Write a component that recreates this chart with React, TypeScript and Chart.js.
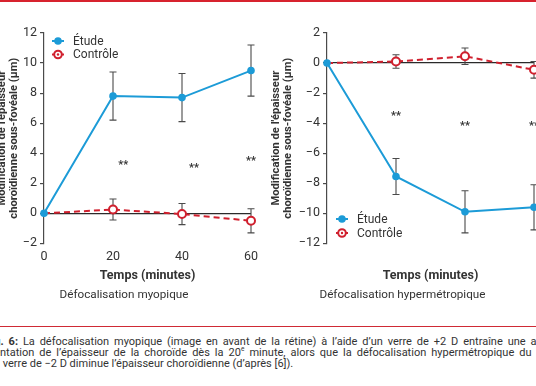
import React, { useEffect, useRef } from 'react';
import { Chart, registerables } from 'chart.js';

Chart.register(...registerables);

// ---------- data ----------
const minutes = [0, 20, 40, 60];
const seriesLabels = ['Étude', 'Contrôle'];
const xTicksMinutes = [0, 20, 40, 60];

// Défocalisation myopique (left panel)
const myoEtude = [0, 7.8, 7.7, 9.5];
const myoEtudeErr = [0, 1.6, 1.6, 1.7];
const myoControle = [0, 0.25, -0.05, -0.5];
const myoControleErr = [0, 0.7, 0.7, 0.8];
const myoStarX = [23, 43.5, 60];
const myoStarY = [3.3, 3.1, 3.6];

// Défocalisation hypermétropique (right panel)
const hypEtude = [0, -7.55, -9.9, -9.6];
const hypEtudeErr = [0, 1.2, 1.4, 1.5];
const hypControle = [0, 0.1, 0.45, -0.45];
const hypControleErr = [0, 0.45, 0.55, 0.55];
const hypStarX = [20, 40, 60];
const hypStarY = [-3.4, -4.1, -4.1];

const yTitle = ["Modification de l'épaisseur", 'choroïdienne sous-fovéale (µm)'];
const xTitle = 'Temps (minutes)';

// ---------- styles ----------
const FONT = 'Roboto, "Noto Sans", sans-serif';
const TICK_FONT = '"Liberation Sans Narrow", Roboto, sans-serif';
const BLUE = '#1c9bd7';
const RED = '#d0202e';
const INK = '#333333';
const AXIS = '#4a4a4a';

const fmt = (v: number) => (v < 0 ? '\u2212' + Math.abs(v) : String(v));
const toXY = (ys: number[]) => ys.map((y, i) => ({ x: minutes[i], y }));

const errorBars = {
  id: 'errorBars',
  beforeDatasetsDraw(chart: any) {
    const { ctx, scales } = chart;
    const x = scales.x, y = scales.y;
    ctx.save();
    ctx.strokeStyle = AXIS;
    ctx.lineWidth = 1.1;
    chart.data.datasets.forEach((ds: any) => {
      const errs: number[] = ds.errors;
      if (!errs) return;
      ds.data.forEach((p: any, i: number) => {
        const e = errs[i];
        if (!e) return;
        const px = x.getPixelForValue(p.x);
        const top = y.getPixelForValue(p.y + e);
        const bot = y.getPixelForValue(p.y - e);
        ctx.beginPath();
        ctx.moveTo(px, top); ctx.lineTo(px, bot);
        ctx.moveTo(px - 3.5, top); ctx.lineTo(px + 3.5, top);
        ctx.moveTo(px - 3.5, bot); ctx.lineTo(px + 3.5, bot);
        ctx.stroke();
      });
    });
    ctx.restore();
  },
};

const stars = {
  id: 'stars',
  afterDatasetsDraw(chart: any, _args: any, opts: any) {
    if (!opts || !opts.xs) return;
    const { ctx, scales } = chart;
    ctx.save();
    ctx.fillStyle = INK;
    ctx.font = `bold 11px ${FONT}`;
    ctx.textAlign = 'center';
    ctx.textBaseline = 'middle';
    opts.xs.forEach((xv: number, i: number) => {
      ctx.fillText('**', scales.x.getPixelForValue(xv), scales.y.getPixelForValue(opts.ys[i]) + 2);
    });
    ctx.restore();
  },
};

const insideLegend = {
  id: 'insideLegend',
  afterDraw(chart: any, _args: any, opts: any) {
    if (!opts) return;
    const { ctx, chartArea } = chart;
    ctx.save();
    chart.data.datasets.forEach((ds: any, i: number) => {
      const cx = chartArea.left + opts.dx;
      const cy = chartArea.top + opts.dy + i * opts.gap;
      ctx.strokeStyle = ds.borderColor;
      ctx.lineWidth = 2;
      ctx.setLineDash([]);
      ctx.beginPath();
      ctx.moveTo(cx - 6, cy);
      ctx.lineTo(cx + 6, cy);
      ctx.stroke();
      ctx.beginPath();
      ctx.arc(cx, cy, 3.8, 0, Math.PI * 2);
      ctx.fillStyle = ds.pointBackgroundColor;
      ctx.fill();
      if (ds.pointBorderWidth) {
        ctx.lineWidth = ds.pointBorderWidth;
        ctx.strokeStyle = ds.pointBorderColor;
        ctx.stroke();
        ctx.beginPath();
        ctx.arc(cx, cy, 1.2, 0, Math.PI * 2);
        ctx.fillStyle = ds.pointBorderColor;
        ctx.fill();
      }
      ctx.fillStyle = INK;
      ctx.font = `12px ${FONT}`;
      ctx.textAlign = 'left';
      ctx.textBaseline = 'middle';
      ctx.fillText(ds.label, cx + 15, cy + 0.5);
    });
    ctx.restore();
  },
};

type Spec = {
  etude: number[]; etudeErr: number[]; controle: number[]; controleErr: number[];
  starX: number[]; starY: number[];
  yMin: number; yMax: number; yW: number; padR: number; showX: boolean;
  subtitle: string; legend: { dx: number; dy: number; gap: number };
};

function makeConfig(p: Spec): any {
  return {
    type: 'line',
    data: {
      datasets: [
        {
          label: seriesLabels[0], data: toXY(p.etude), errors: p.etudeErr,
          borderColor: BLUE, backgroundColor: BLUE, borderWidth: 2,
          pointRadius: 3.8, pointBackgroundColor: BLUE, pointBorderColor: BLUE, pointBorderWidth: 0,
          clip: false, order: 0,
        },
        {
          label: seriesLabels[1], data: toXY(p.controle), errors: p.controleErr,
          borderColor: RED, backgroundColor: '#ffffff', borderWidth: 2, borderDash: [6, 4],
          pointRadius: [0, 4, 4, 4], pointBackgroundColor: '#ffffff', pointBorderColor: RED, pointBorderWidth: 2,
          clip: false, order: 1,
        },
      ],
    },
    options: {
      animation: false,
      responsive: false,
      devicePixelRatio: 1,
      events: [],
      layout: { padding: { left: 0, right: p.padR, top: 33, bottom: 8 } },
      scales: {
        x: {
          type: 'linear', min: 0, max: 60,
          afterBuildTicks: (s: any) => { s.ticks = xTicksMinutes.map((v) => ({ value: v })); },
          ticks: { display: p.showX, padding: 6, color: INK, font: { family: TICK_FONT, size: 12.5 } },
          grid: { display: false, drawTicks: false },
          border: { display: false },
          title: { display: true, text: xTitle, color: INK, font: { family: FONT, size: 12.5, weight: 'bold' }, padding: { top: 0, bottom: 4.5 } },
          afterFit: (s: any) => { s.height = 44.6; },
        },
        y: {
          min: p.yMin, max: p.yMax,
          ticks: { stepSize: 2, callback: (v: any) => fmt(Number(v)), padding: 3, color: INK, font: { family: TICK_FONT, size: 12.5 } },
          grid: {
            color: (c: any) => (c.tick && c.tick.value === 0 ? '#2a2a2a' : 'rgba(0,0,0,0)'),
            lineWidth: 1.2, tickColor: AXIS, tickLength: 4, drawTicks: true,
          },
          border: { display: true, color: AXIS, width: 1.2 },
          title: { display: true, text: yTitle, color: INK, font: { family: FONT, size: 11.2, weight: 'bold', lineHeight: 1 }, padding: 0 },
          afterFit: (s: any) => { s.width = p.yW; },
        },
      },
      plugins: {
        legend: { display: false },
        tooltip: { enabled: false },
        title: { display: true, position: 'bottom', text: p.subtitle, color: INK, font: { family: FONT, size: 11.7, weight: 'normal' }, padding: 0 },
        stars: { xs: p.starX, ys: p.starY },
        insideLegend: p.legend,
      },
    },
    plugins: [errorBars, stars, insideLegend],
  };
}

function Panel({ left, width, spec }: { left: number; width: number; spec: Spec }) {
  const ref = useRef<HTMLCanvasElement>(null);
  useEffect(() => {
    if (!ref.current) return;
    const chart = new Chart(ref.current, makeConfig(spec));
    return () => chart.destroy();
  }, []);
  return (
    <canvas ref={ref} width={width} height={310}
      style={{ position: 'absolute', left, top: 0, width, height: 310 }} />
  );
}

const leftSpec: Spec = {
  etude: myoEtude, etudeErr: myoEtudeErr, controle: myoControle, controleErr: myoControleErr,
  starX: myoStarX, starY: myoStarY, yMin: -2, yMax: 12, yW: 47, padR: 15, showX: true,
  subtitle: 'Défocalisation myopique', legend: { dx: 14, dy: 8, gap: 13.5 },
};
const rightSpec: Spec = {
  etude: hypEtude, etudeErr: hypEtudeErr, controle: hypControle, controleErr: hypControleErr,
  starX: hypStarX, starY: hypStarY, yMin: -12, yMax: 2, yW: 56, padR: 27, showX: false,
  subtitle: 'Défocalisation hypermétropique', legend: { dx: 15, dy: 186, gap: 14 },
};

export default function App() {
  const cap: React.CSSProperties = {
    position: 'absolute', whiteSpace: 'nowrap', fontSize: 11, lineHeight: '11px', color: INK,
  };
  return (
    <div style={{ position: 'absolute', left: 0, top: 0, width: 536, height: 386, overflow: 'hidden', background: '#fff', fontFamily: FONT }}>
      <div style={{ position: 'absolute', left: 0, top: 0, width: 536, height: 1.6, background: '#d7232e' }} />
      <Panel left={-3} width={269} spec={leftSpec} />
      <Panel left={271} width={290} spec={rightSpec} />
      <div style={{ position: 'absolute', left: 0, top: 325.6, width: 536, height: 1.1, background: '#cf2a35' }} />
      <div style={{ ...cap, left: 0.5, top: 336.2, wordSpacing: 2.15 }}>
        <span style={{ position: 'absolute', right: '100%', fontWeight: 700 }}>Fig</span>
        <b>. 6:</b> La défocalisation myopique (image en avant de la rétine) à l’aide d’un verre de +2 D entraîne une aug-
      </div>
      <div style={{ ...cap, left: 0, top: 347.2, wordSpacing: 2.3 }}>
        <span style={{ position: 'absolute', right: '100%' }}>me</span>
        ntation de l’épaisseur de la choroïde dès la 20<sup style={{ fontSize: 6.5, lineHeight: 0 }}>e</sup> minute, alors que la défocalisation hypermétropique du
      </div>
      <div style={{ ...cap, left: 2.7, top: 357.8 }}>
        verre de −2 D diminue l’épaisseur choroïdienne (d’après [6]).
      </div>
    </div>
  );
}
